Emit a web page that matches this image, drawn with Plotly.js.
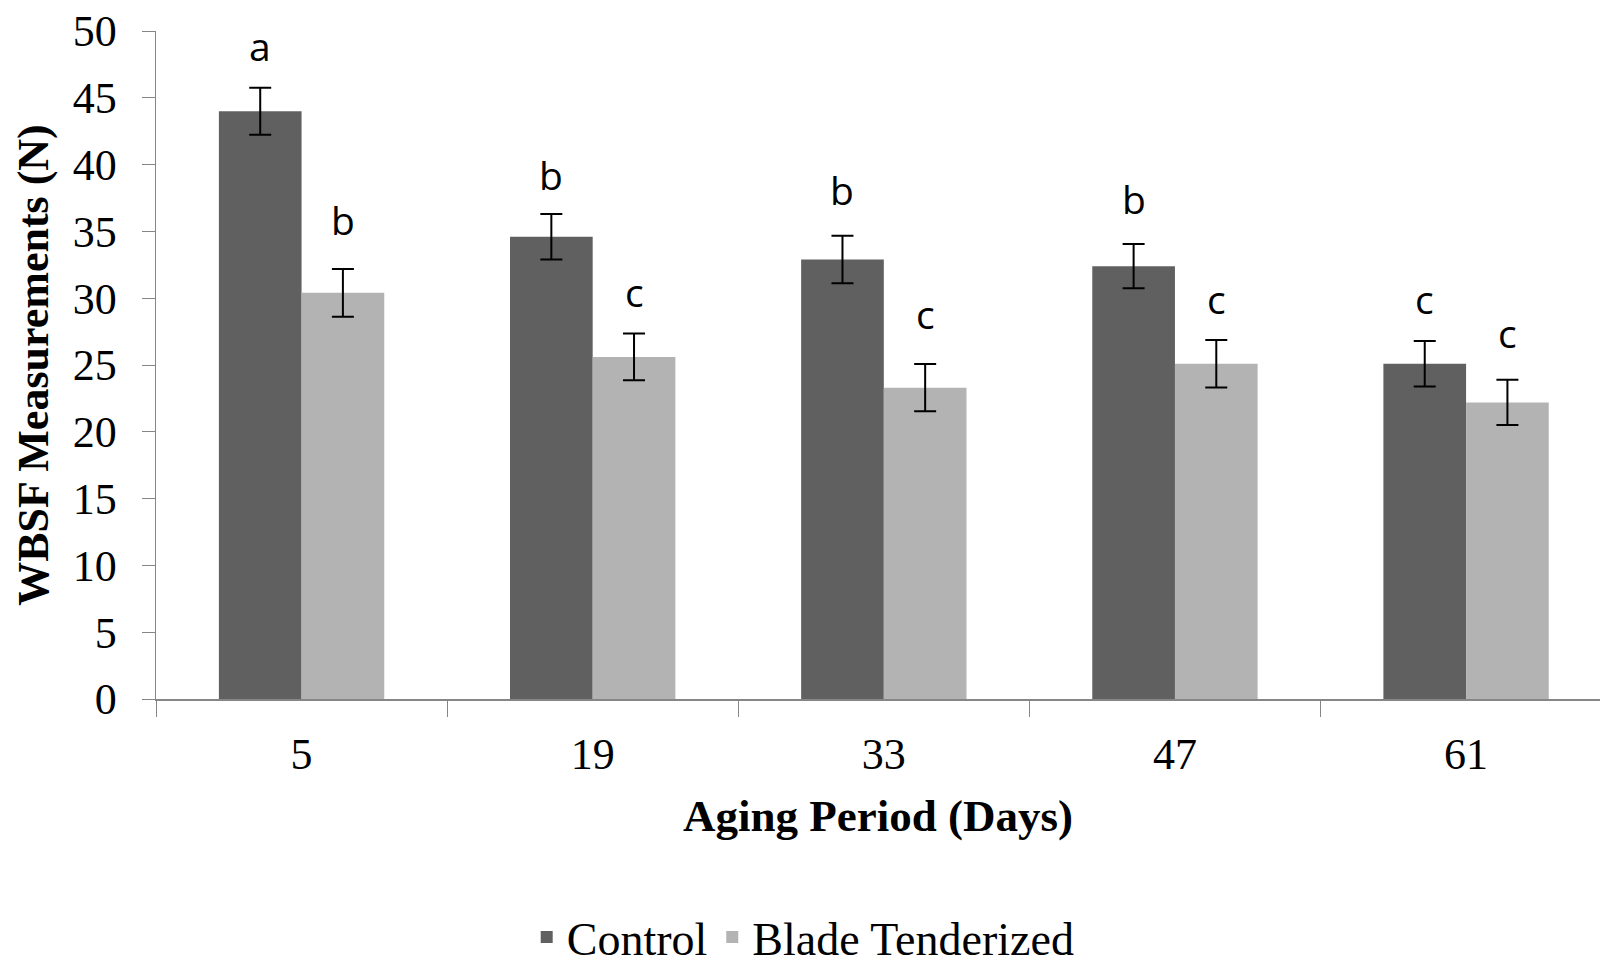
<!DOCTYPE html>
<html>
<head>
<meta charset="utf-8">
<script src="https://cdn.plot.ly/plotly-3.0.1.min.js"></script>
<style>html,body{margin:0;padding:0;background:#fff;}#chart{width:1600px;height:964px;}</style>
</head>
<body>
<div id="chart"></div>
<script>
// ---- data ----
var agingDays = ['5', '19', '33', '47', '61'];
var controlWBSF = [44.0, 34.6, 32.9, 32.4, 25.1];
var controlErr = [1.76, 1.70, 1.78, 1.66, 1.70];
var bladeWBSF = [30.4, 25.6, 23.3, 25.1, 22.2];
var bladeErr = [1.78, 1.75, 1.77, 1.78, 1.70];
var controlLetters = ['a', 'b', 'b', 'b', 'c'];
var bladeLetters = ['b', 'c', 'c', 'c', 'c'];
var seriesNames = ['Control', 'Blade Tenderized'];

// ---- style ----
var bargap = 0.432;
var serif = 'Liberation Serif, Times New Roman, serif';
var axisGray = '#868686';
var controlLetterShift = [14, 11, 18, 17, 14];
var bladeLetterShift = [21, 14, 22, 13, 19];

var traces = [
  {
    type: 'bar', name: seriesNames[0], x: agingDays, y: controlWBSF,
    marker: {color: '#606060', line: {width: 0}},
    error_y: {type: 'data', array: controlErr, visible: true, color: '#000000', thickness: 2, width: 11}
  },
  {
    type: 'bar', name: seriesNames[1], x: agingDays, y: bladeWBSF,
    marker: {color: '#b3b3b3', line: {width: 0}},
    error_y: {type: 'data', array: bladeErr, visible: true, color: '#000000', thickness: 2, width: 11}
  }
];

var off = (1 - bargap) / 4;
var annotations = [];
function addLetters(vals, errs, letters, sign, shifts) {
  for (var i = 0; i < vals.length; i++) {
    annotations.push({
      x: i + sign * off, y: vals[i] + errs[i], xref: 'x', yref: 'y',
      text: letters[i], showarrow: false, yanchor: 'bottom', yshift: shifts[i],
      font: {family: 'Open Sans, Lato, sans-serif', size: 39, color: '#000'}
    });
  }
}
addLetters(controlWBSF, controlErr, controlLetters, -1, controlLetterShift);
addLetters(bladeWBSF, bladeErr, bladeLetters, 1, bladeLetterShift);

var layout = {
  width: 1600, height: 964,
  paper_bgcolor: '#ffffff', plot_bgcolor: '#ffffff',
  margin: {l: 156, r: 0, t: 31, b: 265},
  barmode: 'group', bargap: bargap, bargroupgap: 0,
  showlegend: true,
  legend: {
    orientation: 'h', xref: 'container', yref: 'container',
    x: 0.502, xanchor: 'center', y: 0.028, yanchor: 'middle',
    font: {family: serif, size: 46, color: '#000'},
    traceorder: 'normal'
  },
  xaxis: {
    type: 'category', range: [-0.5, 4.46],
    showline: true, linecolor: axisGray, linewidth: 2,
    ticks: 'outside', tickson: 'boundaries', ticklen: 16, tickcolor: axisGray, tickwidth: 1,
    showgrid: false, zeroline: false,
    tickfont: {family: serif, size: 44, color: '#000'},
    ticklabelstandoff: 15,
    title: {text: '<b>Aging Period (Days)</b>', font: {family: serif, size: 45, color: '#000'}, standoff: 22}
  },
  yaxis: {
    range: [0, 50], dtick: 5, tick0: 0,
    showline: true, linecolor: axisGray, linewidth: 1.5,
    ticks: 'outside', ticklen: 13, tickcolor: axisGray, tickwidth: 1,
    showgrid: false, zeroline: false,
    tickfont: {family: serif, size: 44, color: '#000'},
    ticklabelstandoff: 16,
    title: {text: '<b>WBSF Measurements (N)</b>', font: {family: serif, size: 44, color: '#000'}, standoff: 10}
  },
  annotations: annotations
};

Plotly.newPlot('chart', traces, layout, {displayModeBar: false, staticPlot: true});
</script>
</body>
</html>
